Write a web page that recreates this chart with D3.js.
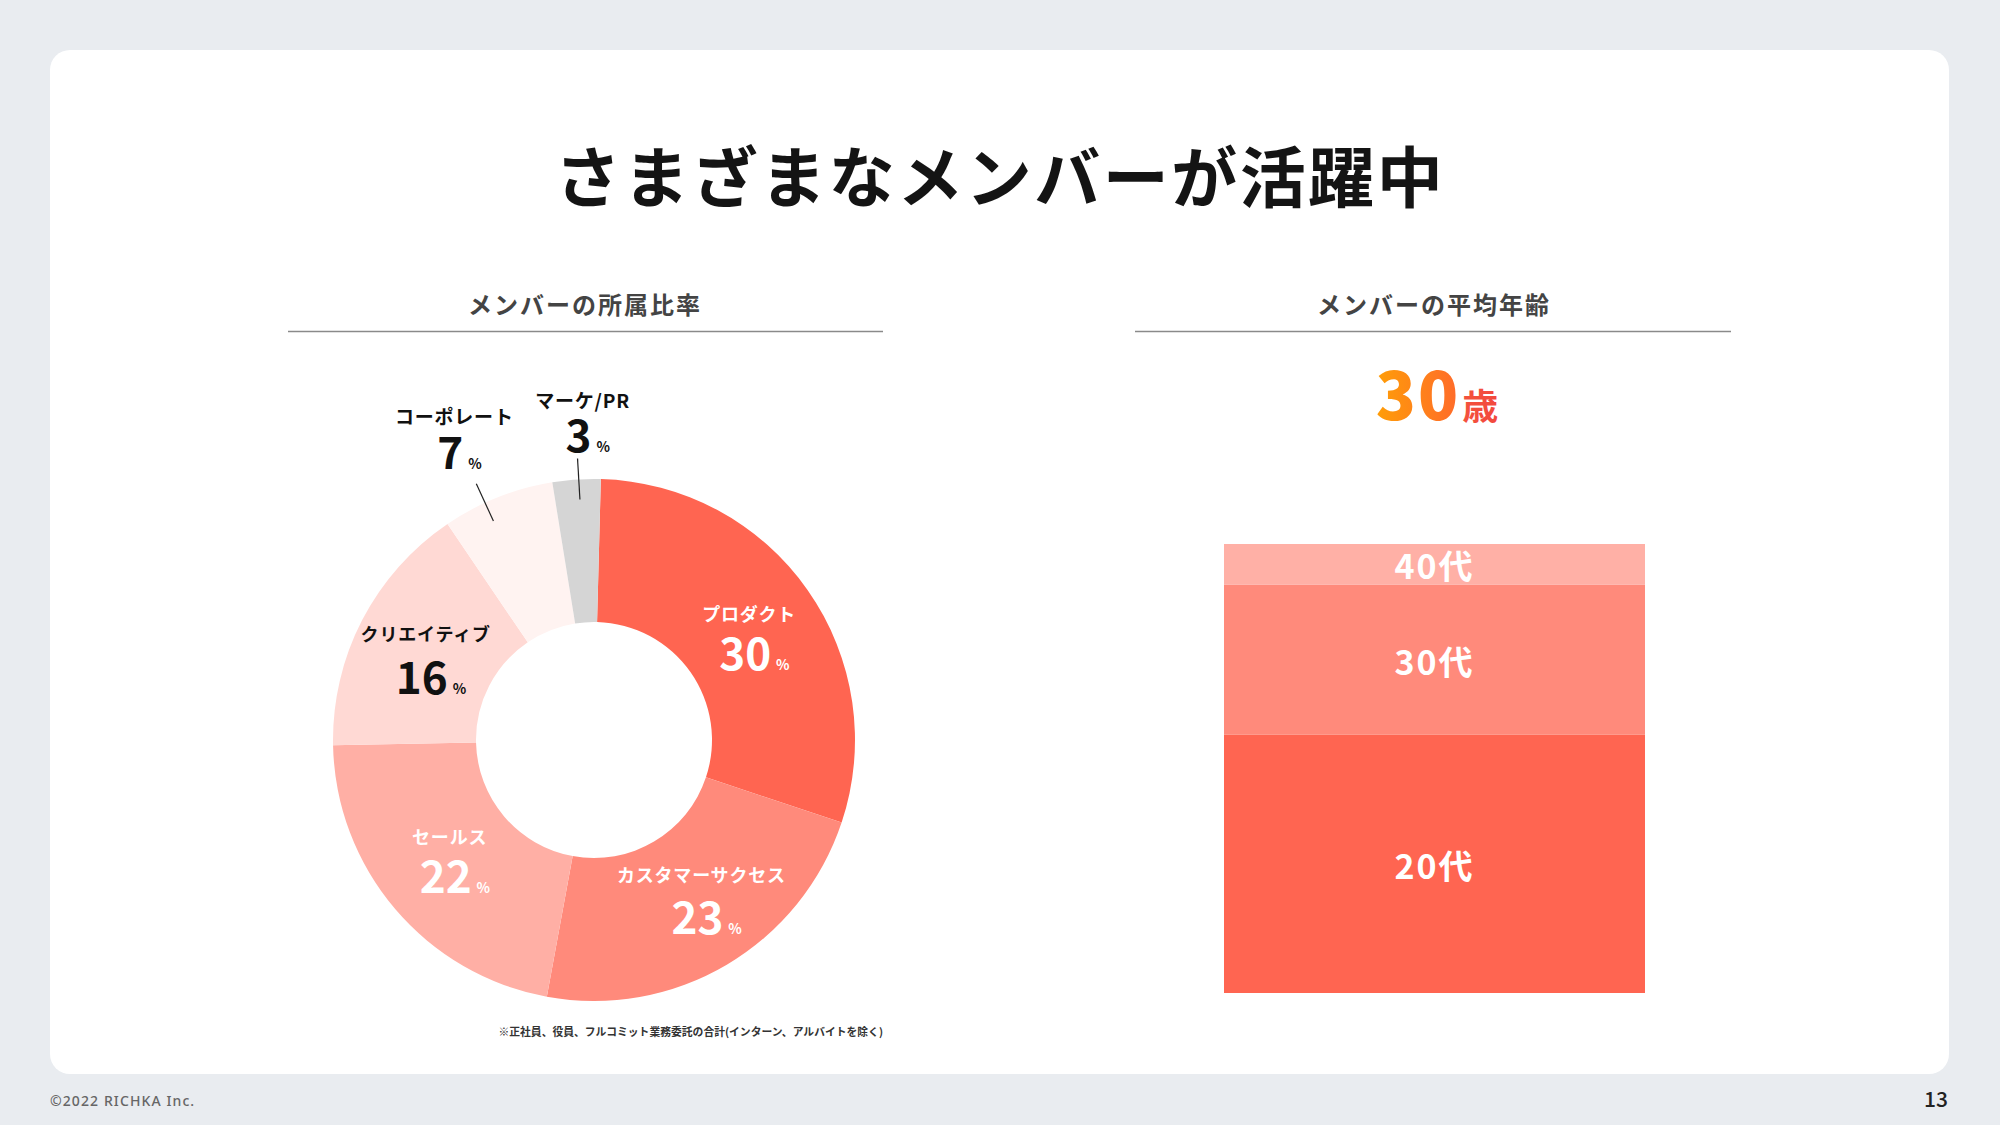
<!DOCTYPE html>
<html><head><meta charset="utf-8">
<script src="https://cdn.jsdelivr.net/npm/d3@7"></script>
<style>
html,body{margin:0;padding:0;background:#e9ecf0;}
svg{display:block;font-family:"Noto Sans CJK JP","Noto Sans",sans-serif;}
</style></head><body>
<svg id="c" width="2000" height="1125"></svg>
<script>
// ---- data ----
const deptNames = ["プロダクト","カスタマーサクセス","セールス","クリエイティブ","コーポレート","マーケ/PR"];
const deptShares = [30,23,22,16,7,3];
const ageGroups = ["20代","30代","40代"];
const ageShares = [57.5,33.4,9.1];
const averageAge = 30;
const titleText = "さまざまなメンバーが活躍中";
const leftSubtitle = "メンバーの所属比率";
const rightSubtitle = "メンバーの平均年齢";
const footnote = "※正社員、役員、フルコミット業務委託の合計(インターン、アルバイトを除く)";

// ---- styles / layout ----
const deptColors = ["#ff6551","#ff8a7b","#ffafa5","#ffd9d4","#fff3f1","#d5d5d5"];
const deptTextColors = ["#fff","#fff","#fff","#111","#111","#111"];
const outsideLabel = [false,false,false,false,true,true];
// small layout nudges for label placement (px / degrees)
const labelNudgeX = [0,11,0,0,-22,5];
const labelNudgeY = [0,2,0,3,-5,4];
const leaderAngleNudge = [0,0,0,0,-3,0.5];
const ageColors = ["#ff6551","#ff8a7b","#ffb0a6"];

const svg = d3.select("#c");

// background card
svg.append("rect").attr("x",0).attr("y",0).attr("width",2000).attr("height",1125).attr("fill","#e9ecf0");
svg.append("rect").attr("x",50).attr("y",50).attr("width",1899).attr("height",1024).attr("rx",20).attr("fill","#fff");

// title
svg.append("text").attr("x",1000).attr("y",202).attr("text-anchor","middle")
  .attr("font-size",66).attr("font-weight",700).attr("letter-spacing",2.5).attr("fill","#141414")
  .text(titleText);

// subtitles + rules
[[leftSubtitle,585,288,883],[rightSubtitle,1434,1135,1731]].forEach(([t,cx,x1,x2])=>{
  svg.append("text").attr("x",cx).attr("y",314).attr("text-anchor","middle")
    .attr("font-size",24).attr("font-weight",700).attr("letter-spacing",2).attr("fill","#444").text(t);
  svg.append("line").attr("x1",x1).attr("x2",x2).attr("y1",331.5).attr("y2",331.5)
    .attr("stroke","#8a8a8a").attr("stroke-width",1.5);
});

// ---- donut ----
const cx = 594, cy = 740, rOuter = 261, rInner = 118;
const deg = Math.PI/180;
const pie = d3.pie().sort(null).startAngle(1.5*deg).endAngle(1.5*deg + 2*Math.PI);
const arcs = pie(deptShares);
const arc = d3.arc().innerRadius(rInner).outerRadius(rOuter);
const labelArcY = d3.arc().innerRadius(rInner).outerRadius(rOuter - 14);
const g = svg.append("g").attr("transform",`translate(${cx},${cy})`);
g.selectAll("path.slice").data(arcs).join("path").attr("class","slice")
  .attr("d",arc).attr("fill",(d,i)=>deptColors[i]);

arcs.forEach((d,i)=>{
  const mid = (d.startAngle + d.endAngle)/2 + leaderAngleNudge[i]*deg;
  let lx, numY, nameY;
  if(!outsideLabel[i]){
    const c = arc.centroid(d);
    const cyl = labelArcY.centroid(d)[1];
    lx = c[0] + labelNudgeX[i]; nameY = cyl-21; numY = cyl+35 + labelNudgeY[i];
  } else {
    const r1 = 241, r2 = 282;
    const x1 = Math.sin(mid)*r1, y1 = -Math.cos(mid)*r1;
    const x2 = Math.sin(mid)*r2, y2 = -Math.cos(mid)*r2;
    g.append("line").attr("x1",x1).attr("y1",y1).attr("x2",x2).attr("y2",y2)
      .attr("stroke","#222").attr("stroke-width",1.2);
    lx = x2 + labelNudgeX[i]; numY = y2 - 10 + labelNudgeY[i]; nameY = numY - 51;
  }
  const col = deptTextColors[i];
  g.append("text").attr("x",lx).attr("y",nameY).attr("dy","0.35em").attr("text-anchor","middle")
    .attr("font-size",outsideLabel[i]?19:18).attr("font-weight",700).attr("letter-spacing",0.8).attr("fill",col)
    .text(deptNames[i]);
  const numX = lx - 4;
  const nt = g.append("text").attr("x",numX).attr("y",numY).attr("text-anchor","middle")
    .attr("font-size",44).attr("font-weight",700).attr("fill",col).text(deptShares[i]);
  const w = nt.node().getComputedTextLength();
  g.append("text").attr("x",numX + w/2 + 5).attr("y",numY)
    .attr("font-size",14).attr("font-weight",700).attr("fill",col).text("%");
});

svg.append("text").attr("x",883).attr("y",1036).attr("text-anchor","end")
  .attr("font-size",10.8).attr("font-weight",700).attr("fill","#333").text(footnote);

// ---- average age ----
const grad = svg.append("defs").append("linearGradient").attr("id","ageGrad")
  .attr("gradientUnits","userSpaceOnUse").attr("x1",1377).attr("x2",1498).attr("y1",0).attr("y2",0);
grad.append("stop").attr("offset","0%").attr("stop-color","#ff9d08");
grad.append("stop").attr("offset","66%").attr("stop-color","#ff6c2a");
grad.append("stop").attr("offset","72%").attr("stop-color","#f4523c");
grad.append("stop").attr("offset","100%").attr("stop-color","#f2483e");
const at = svg.append("text").attr("x",1437).attr("y",420).attr("text-anchor","middle")
  .attr("font-weight",900).attr("fill","url(#ageGrad)");
at.append("tspan").attr("font-size",66).attr("letter-spacing",2).text(averageAge);
at.append("tspan").attr("font-size",36).attr("font-weight",700).attr("dx",2).text("歳");

// ---- stacked bar ----
const y = d3.scaleLinear().domain([0,100]).range([993,544]);
const x = d3.scaleBand().domain(["age"]).range([1224,1645]).padding(0);
const stackData = [Object.fromEntries(ageGroups.map((k,i)=>[k,ageShares[i]]))];
const series = d3.stack().keys(ageGroups)(stackData);
const bg = svg.append("g");
series.forEach((s,i)=>{
  const d = s[0];
  bg.append("rect").attr("x",x("age")).attr("width",x.bandwidth())
    .attr("y",y(d[1])).attr("height",y(d[0])-y(d[1])).attr("fill",ageColors[i]);
});
series.forEach((s,i)=>{
  const d = s[0];
  bg.append("text").attr("x",x("age")+x.bandwidth()/2).attr("y",(y(d[0])+y(d[1]))/2+15)
    .attr("text-anchor","middle").attr("font-size",34).attr("font-weight",700)
    .attr("letter-spacing",2).attr("fill","#fff").text(ageGroups[i]);
});

// footer
svg.append("text").attr("x",50).attr("y",1106).attr("font-size",14).attr("font-weight",500)
  .attr("letter-spacing",1.1).attr("fill","#666").attr("font-family","'Noto Sans', sans-serif").text("©2022 RICHKA Inc.");
svg.append("text").attr("x",1948).attr("y",1107).attr("text-anchor","end").attr("font-size",21)
  .attr("font-weight",500).attr("fill","#222").text("13");
</script></body></html>
